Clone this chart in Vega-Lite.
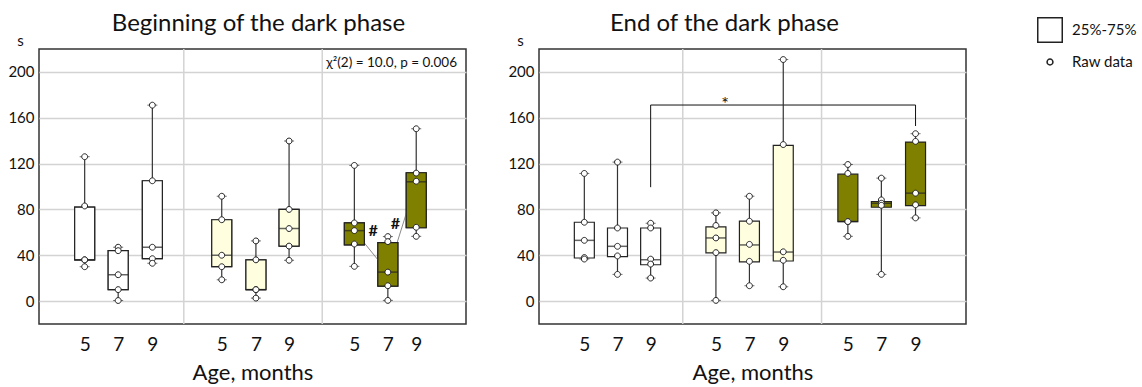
{
  "$schema": "https://vega.github.io/schema/vega-lite/v6.json",
  "padding": {"left": 7, "top": 11, "right": 0, "bottom": 0},
  "background": "white",
  "config": {
    "font": "Lato",
    "view": {"stroke": "#333333", "strokeWidth": 1.5},
    "concat": {"spacing": 40},
    "axis": {"labelFont": "Lato", "titleFont": "Lato", "labelColor": "#111111", "titleColor": "#111111"}
  },
  "datasets": {
    "boxesL": [
      {"pos": 1.19, "age": "5", "grp": "g1", "lo": 30, "q1": 36, "med": 36, "q3": 82, "hi": 126},
      {"pos": 2.17, "age": "7", "grp": "g1", "lo": 0.5, "q1": 10, "med": 23, "q3": 44, "hi": 47},
      {"pos": 3.17, "age": "9", "grp": "g1", "lo": 33, "q1": 37, "med": 47, "q3": 105, "hi": 171},
      {"pos": 5.2, "age": "5", "grp": "g2", "lo": 18.6, "q1": 30, "med": 40, "q3": 71, "hi": 91.5},
      {"pos": 6.2, "age": "7", "grp": "g2", "lo": 2.6, "q1": 10, "med": 10, "q3": 36, "hi": 52.5},
      {"pos": 7.17, "age": "9", "grp": "g2", "lo": 35.6, "q1": 48, "med": 63.3, "q3": 80, "hi": 139.7},
      {"pos": 9.08, "age": "5", "grp": "g3", "lo": 30.3, "q1": 49, "med": 61.5, "q3": 68.2, "hi": 118.4},
      {"pos": 10.06, "age": "7", "grp": "g3", "lo": 0.6, "q1": 13, "med": 25.3, "q3": 51, "hi": 56.3},
      {"pos": 10.89, "age": "9", "grp": "g3", "lo": 56.5, "q1": 64, "med": 104.1, "q3": 112, "hi": 150.4}
    ],
    "boxesR": [
      {"pos": 1.18, "age": "5", "grp": "g1", "lo": 36.7, "q1": 37.6, "med": 53, "q3": 68.8, "hi": 111.4},
      {"pos": 2.15, "age": "7", "grp": "g1", "lo": 23.3, "q1": 38.8, "med": 47.8, "q3": 63.8, "hi": 121.3},
      {"pos": 3.12, "age": "9", "grp": "g1", "lo": 20.1, "q1": 31.7, "med": 36.1, "q3": 63.8, "hi": 67.9},
      {"pos": 5.03, "age": "5", "grp": "g2", "lo": 0.6, "q1": 42, "med": 55.1, "q3": 64.7, "hi": 77},
      {"pos": 6.01, "age": "7", "grp": "g2", "lo": 13.4, "q1": 34.2, "med": 49, "q3": 69.7, "hi": 91.5},
      {"pos": 7.0, "age": "9", "grp": "g2", "lo": 12.5, "q1": 35, "med": 42.8, "q3": 135.9, "hi": 210.8},
      {"pos": 8.89, "age": "5", "grp": "g3", "lo": 56.5, "q1": 69.4, "med": 69.5, "q3": 110.8, "hi": 119.2},
      {"pos": 9.87, "age": "7", "grp": "g3", "lo": 23.3, "q1": 81.9, "med": 85.4, "q3": 86.9, "hi": 107.3},
      {"pos": 10.87, "age": "9", "grp": "g3", "lo": 72.6, "q1": 83.3, "med": 94.2, "q3": 138.8, "hi": 146.1}
    ],
    "pointsL": [
      {"pos": 1.19, "v": 126, "kind": "Raw data"}, {"pos": 1.19, "v": 83, "kind": "Raw data"}, {"pos": 1.19, "v": 36, "kind": "Raw data"}, {"pos": 1.19, "v": 36, "kind": "Raw data"}, {"pos": 1.19, "v": 30, "kind": "Raw data"},
      {"pos": 2.17, "v": 47, "kind": "Raw data"}, {"pos": 2.17, "v": 44, "kind": "Raw data"}, {"pos": 2.17, "v": 23, "kind": "Raw data"}, {"pos": 2.17, "v": 10, "kind": "Raw data"}, {"pos": 2.17, "v": 0.5, "kind": "Raw data"},
      {"pos": 3.17, "v": 171, "kind": "Raw data"}, {"pos": 3.17, "v": 105, "kind": "Raw data"}, {"pos": 3.17, "v": 47, "kind": "Raw data"}, {"pos": 3.17, "v": 37, "kind": "Raw data"}, {"pos": 3.17, "v": 33, "kind": "Raw data"},
      {"pos": 5.2, "v": 91.5, "kind": "Raw data"}, {"pos": 5.2, "v": 71, "kind": "Raw data"}, {"pos": 5.2, "v": 40, "kind": "Raw data"}, {"pos": 5.2, "v": 30, "kind": "Raw data"}, {"pos": 5.2, "v": 18.6, "kind": "Raw data"},
      {"pos": 6.2, "v": 52.5, "kind": "Raw data"}, {"pos": 6.2, "v": 36, "kind": "Raw data"}, {"pos": 6.2, "v": 10, "kind": "Raw data"}, {"pos": 6.2, "v": 10, "kind": "Raw data"}, {"pos": 6.2, "v": 2.6, "kind": "Raw data"},
      {"pos": 7.17, "v": 139.7, "kind": "Raw data"}, {"pos": 7.17, "v": 80, "kind": "Raw data"}, {"pos": 7.17, "v": 63.3, "kind": "Raw data"}, {"pos": 7.17, "v": 48, "kind": "Raw data"}, {"pos": 7.17, "v": 35.6, "kind": "Raw data"},
      {"pos": 9.08, "v": 118.4, "kind": "Raw data"}, {"pos": 9.08, "v": 68.2, "kind": "Raw data"}, {"pos": 9.08, "v": 61.5, "kind": "Raw data"}, {"pos": 9.08, "v": 49.8, "kind": "Raw data"}, {"pos": 9.08, "v": 30.3, "kind": "Raw data"},
      {"pos": 10.06, "v": 56.3, "kind": "Raw data"}, {"pos": 10.06, "v": 51.9, "kind": "Raw data"}, {"pos": 10.06, "v": 25.3, "kind": "Raw data"}, {"pos": 10.06, "v": 13.4, "kind": "Raw data"}, {"pos": 10.06, "v": 0.6, "kind": "Raw data"},
      {"pos": 10.89, "v": 150.4, "kind": "Raw data"}, {"pos": 10.89, "v": 111.7, "kind": "Raw data"}, {"pos": 10.89, "v": 104.6, "kind": "Raw data"}, {"pos": 10.89, "v": 64.4, "kind": "Raw data"}, {"pos": 10.89, "v": 56.5, "kind": "Raw data"}
    ],
    "pointsR": [
      {"pos": 1.18, "v": 111.4, "kind": "Raw data"}, {"pos": 1.18, "v": 68.8, "kind": "Raw data"}, {"pos": 1.18, "v": 53, "kind": "Raw data"}, {"pos": 1.18, "v": 38, "kind": "Raw data"}, {"pos": 1.18, "v": 36.7, "kind": "Raw data"},
      {"pos": 2.15, "v": 121.3, "kind": "Raw data"}, {"pos": 2.15, "v": 63.8, "kind": "Raw data"}, {"pos": 2.15, "v": 47.8, "kind": "Raw data"}, {"pos": 2.15, "v": 39.4, "kind": "Raw data"}, {"pos": 2.15, "v": 23.3, "kind": "Raw data"},
      {"pos": 3.12, "v": 67.9, "kind": "Raw data"}, {"pos": 3.12, "v": 63.8, "kind": "Raw data"}, {"pos": 3.12, "v": 36.6, "kind": "Raw data"}, {"pos": 3.12, "v": 32.3, "kind": "Raw data"}, {"pos": 3.12, "v": 20.1, "kind": "Raw data"},
      {"pos": 5.03, "v": 77, "kind": "Raw data"}, {"pos": 5.03, "v": 66, "kind": "Raw data"}, {"pos": 5.03, "v": 55.1, "kind": "Raw data"}, {"pos": 5.03, "v": 42.3, "kind": "Raw data"}, {"pos": 5.03, "v": 0.6, "kind": "Raw data"},
      {"pos": 6.01, "v": 91.5, "kind": "Raw data"}, {"pos": 6.01, "v": 69.7, "kind": "Raw data"}, {"pos": 6.01, "v": 49.5, "kind": "Raw data"}, {"pos": 6.01, "v": 34.7, "kind": "Raw data"}, {"pos": 6.01, "v": 13.4, "kind": "Raw data"},
      {"pos": 7.0, "v": 210.8, "kind": "Raw data"}, {"pos": 7.0, "v": 136.6, "kind": "Raw data"}, {"pos": 7.0, "v": 43, "kind": "Raw data"}, {"pos": 7.0, "v": 35.6, "kind": "Raw data"}, {"pos": 7.0, "v": 12.5, "kind": "Raw data"},
      {"pos": 8.89, "v": 119.2, "kind": "Raw data"}, {"pos": 8.89, "v": 111.4, "kind": "Raw data"}, {"pos": 8.89, "v": 69.4, "kind": "Raw data"}, {"pos": 8.89, "v": 69.4, "kind": "Raw data"}, {"pos": 8.89, "v": 56.5, "kind": "Raw data"},
      {"pos": 9.87, "v": 107.3, "kind": "Raw data"}, {"pos": 9.87, "v": 88.3, "kind": "Raw data"}, {"pos": 9.87, "v": 85.4, "kind": "Raw data"}, {"pos": 9.87, "v": 83.6, "kind": "Raw data"}, {"pos": 9.87, "v": 23.3, "kind": "Raw data"},
      {"pos": 10.87, "v": 146.1, "kind": "Raw data"}, {"pos": 10.87, "v": 139.4, "kind": "Raw data"}, {"pos": 10.87, "v": 94.2, "kind": "Raw data"}, {"pos": 10.87, "v": 84, "kind": "Raw data"}, {"pos": 10.87, "v": 72.6, "kind": "Raw data"}
    ]
  },
  "hconcat": [
    {
      "width": 427,
      "height": 275,
      "title": {"text": "Beginning of the dark phase", "fontSize": 24, "fontWeight": "normal", "font": "Lato", "color": "#111111", "offset": 14, "dx": 6, "dy": 17},
      "layer": [
        {
          "data": {"name": "boxesL"},
          "mark": {"type": "bar", "size": 20, "stroke": "#222222", "strokeWidth": 1.2},
          "encoding": {
            "x": {"field": "pos", "type": "quantitative",
              "scale": {"domain": [0, 12.2], "nice": false, "zero": false},
              "axis": {"values": [1.19, 2.17, 3.17, 5.2, 6.2, 7.17, 9.08, 10.06, 10.89],
                "labelExpr": "indexof([1.19, 5.2, 9.08], datum.value) >= 0 ? '5' : (indexof([2.17, 6.2, 10.06], datum.value) >= 0 ? '7' : '9')",
                "grid": false, "ticks": false, "domain": false, "labelFontSize": 19, "labelPadding": 11,
                "title": "Age, months", "titleFontSize": 22, "titleFontWeight": "normal", "titlePadding": 8}},
            "y": {"field": "q1", "type": "quantitative",
              "scale": {"domain": [-20, 220], "nice": false, "zero": false},
              "axis": {"values": [0, 20, 40, 60, 80, 100, 120, 140, 160, 180, 200],
                "labelExpr": "datum.value % 40 === 0 ? datum.label : ''",
                "grid": true, "gridColor": "#d3d3d3", "gridWidth": 1.5, "ticks": false, "domain": false,
                "labelFontSize": 15, "labelPadding": 5,
                "title": "s", "titleAngle": 0, "titleFontSize": 15, "titleFontWeight": "normal", "titleX": -19, "titleY": -4, "titleBaseline": "alphabetic"}},
            "y2": {"field": "q3"},
            "color": {"field": "grp", "type": "nominal", "scale": {"domain": ["g1", "g2", "g3"], "range": ["#ffffff", "#ffffe0", "#808000"]}, "legend": null}
          }
        },
        {
          "data": {"values": [{"pos": 4.09}, {"pos": 8.14}]},
          "mark": {"type": "rule", "color": "#d3d3d3", "strokeWidth": 1.5},
          "encoding": {"x": {"field": "pos", "type": "quantitative"}}
        },
        {
          "data": {"name": "boxesL"},
          "transform": [{"filter": "datum.grp === 'g3'"}],
          "mark": {"type": "line", "color": "#8a8a8a", "strokeWidth": 1},
          "encoding": {
            "x": {"field": "pos", "type": "quantitative"},
            "y": {"field": "med", "type": "quantitative"}
          }
        },
        {
          "data": {"name": "boxesL"},
          "mark": {"type": "rule", "color": "#333333", "strokeWidth": 1.2},
          "encoding": {
            "x": {"field": "pos", "type": "quantitative"},
            "y": {"field": "lo", "type": "quantitative"},
            "y2": {"field": "hi"}
          }
        },
        {
          "data": {"name": "boxesL"},
          "mark": {"type": "tick", "orient": "horizontal", "color": "#333333", "size": 10, "thickness": 1},
          "encoding": {
            "x": {"field": "pos", "type": "quantitative"},
            "y": {"field": "lo", "type": "quantitative"}
          }
        },
        {
          "data": {"name": "boxesL"},
          "mark": {"type": "tick", "orient": "horizontal", "color": "#333333", "size": 10, "thickness": 1},
          "encoding": {
            "x": {"field": "pos", "type": "quantitative"},
            "y": {"field": "hi", "type": "quantitative"}
          }
        },
        {
          "data": {"name": "boxesL"},
          "mark": {"type": "bar", "size": 20, "stroke": "#222222", "strokeWidth": 1.2},
          "encoding": {
            "x": {"field": "pos", "type": "quantitative"},
            "y": {"field": "q1", "type": "quantitative"},
            "y2": {"field": "q3"},
            "color": {"field": "grp", "type": "nominal", "legend": null}
          }
        },
        {
          "data": {"name": "boxesL"},
          "mark": {"type": "tick", "orient": "horizontal", "color": "#222222", "size": 20, "thickness": 1.5},
          "encoding": {
            "x": {"field": "pos", "type": "quantitative"},
            "y": {"field": "med", "type": "quantitative"}
          }
        },
        {
          "data": {"name": "pointsL"},
          "mark": {"type": "point", "filled": true, "fill": "white", "stroke": "#222222", "strokeWidth": 1, "opacity": 1, "size": 600},
          "encoding": {
            "x": {"field": "pos", "type": "quantitative"},
            "y": {"field": "v", "type": "quantitative"},
            "shape": {"field": "kind", "type": "nominal",
              "scale": {"domain": ["25%-75%", "Raw data"], "range": ["M-1,-1H1V1H-1Z", "M-0.24,0A0.24,0.24 0 1,0 0.24,0A0.24,0.24 0 1,0 -0.24,0Z"]},
              "legend": {"title": null, "orient": "none", "legendX": 998, "legendY": -32, "labelFontSize": 15, "labelFont": "Lato", "labelColor": "#111111", "symbolSize": 600, "rowPadding": 3, "labelOffset": 9,
                "encode": {"symbols": {"update": {"fill": {"value": "white"}, "stroke": {"value": "#333333"}, "strokeWidth": {"value": 1}, "opacity": {"value": 1}, "fillOpacity": {"value": 1}, "strokeOpacity": {"value": 1}}}}}}
          }
        },
        {
          "data": {"values": [{"pos": 9.63, "v": 61, "t": "#"}, {"pos": 10.28, "v": 67.6, "t": "#"}]},
          "mark": {"type": "text", "fontSize": 16, "fontWeight": "bold", "color": "#111111", "font": "Lato"},
          "encoding": {
            "x": {"field": "pos", "type": "quantitative"},
            "y": {"field": "v", "type": "quantitative"},
            "text": {"field": "t"}
          }
        },
        {
          "data": {"values": [{"pos": 10.17, "v": 207.5, "t": "χ²(2) = 10.0, p = 0.006"}]},
          "mark": {"type": "text", "fontSize": 13.5, "color": "#111111", "font": "Lato"},
          "encoding": {
            "x": {"field": "pos", "type": "quantitative"},
            "y": {"field": "v", "type": "quantitative"},
            "text": {"field": "t"}
          }
        }
      ]
    },
    {
      "width": 427,
      "height": 275,
      "title": {"text": "End of the dark phase", "fontSize": 24, "fontWeight": "normal", "font": "Lato", "color": "#111111", "offset": 14, "dx": -28, "dy": 17},
      "layer": [
        {
          "data": {"name": "boxesR"},
          "mark": {"type": "bar", "size": 20, "stroke": "#222222", "strokeWidth": 1.2, "opacity": 0},
          "encoding": {
            "x": {"field": "pos", "type": "quantitative",
              "scale": {"domain": [0, 12.2], "nice": false, "zero": false},
              "axis": {"values": [1.18, 2.15, 3.12, 5.03, 6.01, 7.0, 8.89, 9.87, 10.87],
                "labelExpr": "indexof([1.18, 5.03, 8.89], datum.value) >= 0 ? '5' : (indexof([2.15, 6.01, 9.87], datum.value) >= 0 ? '7' : '9')",
                "grid": false, "ticks": false, "domain": false, "labelFontSize": 19, "labelPadding": 11,
                "title": "Age, months", "titleFontSize": 22, "titleFontWeight": "normal", "titlePadding": 8}},
            "y": {"field": "q1", "type": "quantitative",
              "scale": {"domain": [-20, 220], "nice": false, "zero": false},
              "axis": {"values": [0, 20, 40, 60, 80, 100, 120, 140, 160, 180, 200],
                "labelExpr": "datum.value % 40 === 0 ? datum.label : ''",
                "grid": true, "gridColor": "#d3d3d3", "gridWidth": 1.5, "ticks": false, "domain": false,
                "labelFontSize": 15, "labelPadding": 5,
                "title": "s", "titleAngle": 0, "titleFontSize": 15, "titleFontWeight": "normal", "titleX": -19, "titleY": -4, "titleBaseline": "alphabetic"}},
            "y2": {"field": "q3"}
          }
        },
        {
          "data": {"values": [{"pos": 4.06}, {"pos": 8.12}]},
          "mark": {"type": "rule", "color": "#d3d3d3", "strokeWidth": 1.5},
          "encoding": {"x": {"field": "pos", "type": "quantitative"}}
        },
        {
          "data": {"values": [{"o": 1, "pos": 3.12, "v": 99.4}, {"o": 2, "pos": 3.12, "v": 171.1}, {"o": 3, "pos": 10.87, "v": 171.1}, {"o": 4, "pos": 10.87, "v": 152.8}]},
          "mark": {"type": "line", "color": "#111111", "strokeWidth": 1},
          "encoding": {
            "x": {"field": "pos", "type": "quantitative"},
            "y": {"field": "v", "type": "quantitative"},
            "order": {"field": "o"}
          }
        },
        {
          "data": {"values": [{"pos": 5.3, "v": 171.5, "t": "*"}]},
          "mark": {"type": "text", "fontSize": 18, "color": "#111111", "font": "Lato", "baseline": "middle"},
          "encoding": {
            "x": {"field": "pos", "type": "quantitative"},
            "y": {"field": "v", "type": "quantitative"},
            "text": {"field": "t"}
          }
        },
        {
          "data": {"name": "boxesR"},
          "mark": {"type": "rule", "color": "#333333", "strokeWidth": 1.2},
          "encoding": {
            "x": {"field": "pos", "type": "quantitative"},
            "y": {"field": "lo", "type": "quantitative"},
            "y2": {"field": "hi"}
          }
        },
        {
          "data": {"name": "boxesR"},
          "mark": {"type": "tick", "orient": "horizontal", "color": "#333333", "size": 10, "thickness": 1},
          "encoding": {
            "x": {"field": "pos", "type": "quantitative"},
            "y": {"field": "lo", "type": "quantitative"}
          }
        },
        {
          "data": {"name": "boxesR"},
          "mark": {"type": "tick", "orient": "horizontal", "color": "#333333", "size": 10, "thickness": 1},
          "encoding": {
            "x": {"field": "pos", "type": "quantitative"},
            "y": {"field": "hi", "type": "quantitative"}
          }
        },
        {
          "data": {"name": "boxesR"},
          "mark": {"type": "bar", "size": 20, "stroke": "#222222", "strokeWidth": 1.2},
          "encoding": {
            "x": {"field": "pos", "type": "quantitative"},
            "y": {"field": "q1", "type": "quantitative"},
            "y2": {"field": "q3"},
            "color": {"field": "grp", "type": "nominal", "scale": {"domain": ["g1", "g2", "g3"], "range": ["#ffffff", "#ffffe0", "#808000"]}, "legend": null}
          }
        },
        {
          "data": {"name": "boxesR"},
          "mark": {"type": "tick", "orient": "horizontal", "color": "#222222", "size": 20, "thickness": 1.5},
          "encoding": {
            "x": {"field": "pos", "type": "quantitative"},
            "y": {"field": "med", "type": "quantitative"}
          }
        },
        {
          "data": {"name": "pointsR"},
          "mark": {"type": "point", "filled": true, "fill": "white", "stroke": "#222222", "strokeWidth": 1, "opacity": 1, "size": 600},
          "encoding": {
            "x": {"field": "pos", "type": "quantitative"},
            "y": {"field": "v", "type": "quantitative"},
            "shape": {"field": "kind", "type": "nominal",
              "scale": {"domain": ["25%-75%", "Raw data"], "range": ["M-1,-1H1V1H-1Z", "M-0.24,0A0.24,0.24 0 1,0 0.24,0A0.24,0.24 0 1,0 -0.24,0Z"]},
              "legend": {"title": null, "orient": "none", "legendX": 998, "legendY": -32, "labelFontSize": 15, "labelFont": "Lato", "labelColor": "#111111", "symbolSize": 600, "rowPadding": 3, "labelOffset": 9,
                "encode": {"symbols": {"update": {"fill": {"value": "white"}, "stroke": {"value": "#333333"}, "strokeWidth": {"value": 1}, "opacity": {"value": 1}, "fillOpacity": {"value": 1}, "strokeOpacity": {"value": 1}}}}}}
          }
        }
      ]
    }
  ]
}
